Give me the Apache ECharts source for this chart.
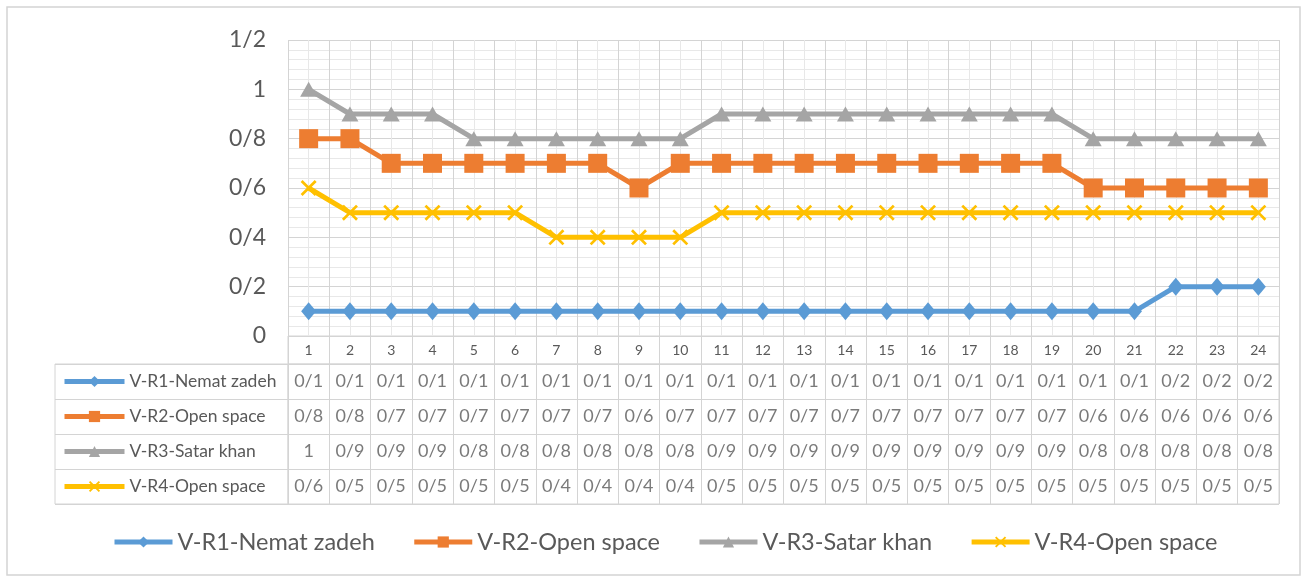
<!DOCTYPE html>
<html>
<head>
<meta charset="utf-8">
<script src="https://cdn.jsdelivr.net/npm/echarts@6/dist/echarts.min.js"></script>
<style>
    html, body { margin: 0; padding: 0; background: #fff; }
    #main { width: 1310px; height: 581px; }
</style>
</head>
<body>
<div id="main"></div>
<script>
// data
const categories = ['1','2','3','4','5','6','7','8','9','10','11','12','13','14','15','16','17','18','19','20','21','22','23','24']
const seriesNames = ['V-R1-Nemat zadeh', 'V-R2-Open space', 'V-R3-Satar khan', 'V-R4-Open space']
const r1Values = [0.1,0.1,0.1,0.1,0.1,0.1,0.1,0.1,0.1,0.1,0.1,0.1,0.1,0.1,0.1,0.1,0.1,0.1,0.1,0.1,0.1,0.2,0.2,0.2]
const r2Values = [0.8,0.8,0.7,0.7,0.7,0.7,0.7,0.7,0.6,0.7,0.7,0.7,0.7,0.7,0.7,0.7,0.7,0.7,0.7,0.6,0.6,0.6,0.6,0.6]
const r3Values = [1,0.9,0.9,0.9,0.8,0.8,0.8,0.8,0.8,0.8,0.9,0.9,0.9,0.9,0.9,0.9,0.9,0.9,0.9,0.8,0.8,0.8,0.8,0.8]
const r4Values = [0.6,0.5,0.5,0.5,0.5,0.5,0.4,0.4,0.4,0.4,0.5,0.5,0.5,0.5,0.5,0.5,0.5,0.5,0.5,0.5,0.5,0.5,0.5,0.5]
const allValues = [r1Values, r2Values, r3Values, r4Values]

const colors = ['#5b9bd5', '#ed7d31', '#a5a5a5', '#ffc000']
const symbols = ['diamond', 'rect', 'triangle',
    'path://M0,1.2L1.2,0L5,3.8L8.8,0L10,1.2L6.2,5L10,8.8L8.8,10L5,6.2L1.2,10L0,8.8L3.8,5Z']
const symbolSizes = [[15, 18], 19, [17, 15], 16]

// layout
const plotLeft = 288, plotWidth = 991, plotTop = 40, plotHeight = 296
const numRowH = 28, rowH = 35, headLeft = 55
const tableTop = plotTop + plotHeight + numRowH
const gridColor = '#d4d4d4'
const minorColor = '#e8e8e8'
const textColor = '#595959'
const fontFam = 'Lato, "Open Sans", sans-serif'

// 0.7 -> "0/7"
function fmt(v) {
    return String(+Number(v).toFixed(2)).replace('.', '/')
}

let lineSeries = seriesNames.map((name, s) => ({
    name: name,
    type: 'line',
    xAxisIndex: 0,
    yAxisIndex: 0,
    data: categories.map((c, i) => [Number(c), allValues[s][i]]),
    symbol: symbols[s],
    symbolSize: symbolSizes[s],
    showAllSymbol: true,
    color: colors[s],
    lineStyle: { width: 5, color: colors[s] },
    itemStyle: { color: colors[s] },
    z: 3
}))

// cells of the data table
let cellData = []
allValues.forEach((vals, s) => {
    vals.forEach((v, i) => cellData.push([i, s, v]))
})

var myChart = echarts.init(document.getElementById('main'))
let option = {
    animation: false,
    textStyle: { fontFamily: fontFam },
    graphic: [{
        type: 'rect',
        shape: { x: 7, y: 7, width: 1293, height: 568 },
        style: { fill: 'none', stroke: gridColor, lineWidth: 1.5 },
        silent: true
    }],
    legend: [
        {
            data: seriesNames,
            left: 112,
            top: 530,
            padding: 0,
            itemWidth: 58,
            itemHeight: 14,
            itemGap: 37,
            selectedMode: false,
            lineStyle: { width: 5 },
            textStyle: { fontSize: 23.5, color: textColor, fontFamily: fontFam }
        },
        {
            data: seriesNames,
            orient: 'vertical',
            left: 62,
            top: tableTop + 7,
            padding: 0,
            itemWidth: 60,
            itemHeight: 14,
            itemGap: 14,
            selectedMode: false,
            lineStyle: { width: 5 },
            textStyle: { fontSize: 17.5, lineHeight: 21, color: textColor, fontFamily: fontFam }
        }
    ],
    grid: [
        { left: plotLeft, top: plotTop, width: plotWidth, height: plotHeight },
        { left: plotLeft, top: plotTop + plotHeight, width: plotWidth, height: numRowH, show: true, borderColor: gridColor, borderWidth: 1 },
        { left: plotLeft, top: tableTop, width: plotWidth, height: rowH * 4, show: true, borderColor: gridColor, borderWidth: 1 },
        { left: headLeft, top: tableTop, width: plotLeft - headLeft, height: rowH * 4, show: true, borderColor: gridColor, borderWidth: 1 }
    ],
    xAxis: [
        {
            gridIndex: 0,
            type: 'value',
            min: 0.5,
            max: 24.5,
            interval: 1,
            axisLabel: { show: false },
            axisTick: { show: false },
            axisLine: { show: false },
            splitLine: { show: true, lineStyle: { color: gridColor, width: 1 } },
            minorTick: { show: false, splitNumber: 2 },
            minorSplitLine: { show: true, lineStyle: { color: minorColor, width: 1 } }
        },
        {
            gridIndex: 1,
            type: 'category',
            data: categories,
            axisLine: { show: false },
            axisTick: { show: false },
            axisLabel: { margin: -21, fontSize: 14, color: textColor, interval: 0 },
            splitLine: { show: true, interval: 0, lineStyle: { color: gridColor } }
        },
        {
            gridIndex: 2,
            type: 'category',
            data: categories,
            axisLine: { show: false },
            axisTick: { show: false },
            axisLabel: { show: false },
            splitLine: { show: true, interval: 0, lineStyle: { color: gridColor } }
        },
        {
            gridIndex: 3,
            type: 'category',
            data: [''],
            show: false
        }
    ],
    yAxis: [
        {
            gridIndex: 0,
            type: 'value',
            min: 0,
            max: 1.2,
            interval: 0.2,
            axisLine: { show: false },
            axisTick: { show: false },
            axisLabel: { formatter: fmt, fontSize: 23, color: textColor, margin: 22 },
            splitLine: { show: true, lineStyle: { color: gridColor, width: 1 } },
            minorTick: { show: false, splitNumber: 5 },
            minorSplitLine: { show: true, lineStyle: { color: minorColor, width: 1 } }
        },
        { gridIndex: 1, type: 'value', show: false },
        {
            gridIndex: 2,
            type: 'category',
            data: seriesNames,
            inverse: true,
            axisLine: { show: false },
            axisTick: { show: false },
            axisLabel: { show: false },
            splitLine: { show: true, interval: 0, lineStyle: { color: gridColor } }
        },
        {
            gridIndex: 3,
            type: 'category',
            data: seriesNames,
            inverse: true,
            axisLine: { show: false },
            axisTick: { show: false },
            axisLabel: { show: false },
            splitLine: { show: true, interval: 0, lineStyle: { color: gridColor } }
        }
    ],
    series: lineSeries.concat([
        {
            name: 'table',
            type: 'scatter',
            xAxisIndex: 2,
            yAxisIndex: 2,
            data: cellData,
            symbolSize: 1,
            silent: true,
            itemStyle: { color: 'rgba(0,0,0,0)' },
            label: {
                show: true,
                position: 'inside',
                formatter: p => fmt(p.value[2]),
                fontSize: 18,
                color: textColor
            }
        }
    ])
}
myChart.setOption(option)
</script>
</body>
</html>
